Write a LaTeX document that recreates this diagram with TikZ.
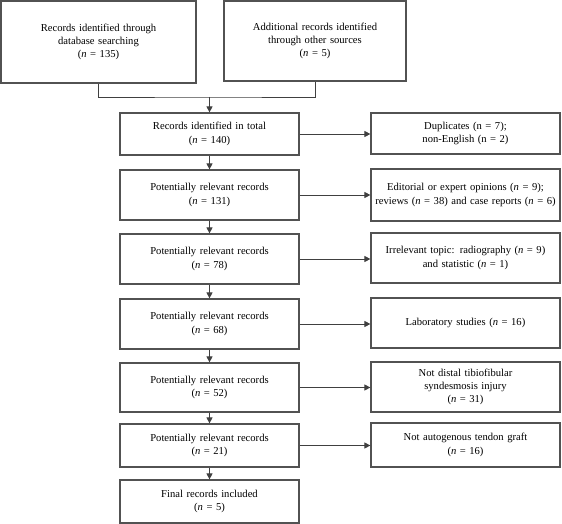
\documentclass[tikz,border=0pt]{standalone}
\usepackage{fontspec}
\setmainfont{Liberation Serif}
\usetikzlibrary{arrows.meta}

\begin{document}
\begin{tikzpicture}[x=1pt, y=-1pt,
    box/.style={draw=black!68, line width=1.2pt, align=center, inner sep=0pt,
        font=\fontsize{10.6}{13.3}\selectfont},
    midbox/.style={box, minimum width=179pt, text width=175pt},
    sidebox/.style={box, minimum width=189pt, text width=185pt},
    arr/.style={draw=black!75, line width=0.9pt, -{Triangle[length=6pt,width=6pt]}}]
    \useasboundingbox (0,0) rectangle (562,524);

    % Draw source boxes
    \node[box, minimum width=195pt, minimum height=82pt, text width=190pt] (src1) at (98.5, 42) {Records identified through\\database searching\\(\textit{n} = 135)};
    \node[box, minimum width=182pt, minimum height=80pt, text width=178pt] (src2) at (315, 41) {Additional records identified\\through other sources\\(\textit{n} = 5)};

    % Draw main column
    \node[midbox, minimum height=42pt] (total) at (209.5, 134) {Records identified in total\\(\textit{n} = 140)};
    \node[midbox, minimum height=50pt] (r131) at (209.5, 195) {Potentially relevant records\\(\textit{n} = 131)};
    \node[midbox, minimum height=50pt] (r78) at (209.5, 259) {Potentially relevant records\\(\textit{n} = 78)};
    \node[midbox, minimum height=50pt] (r68) at (209.5, 324) {Potentially relevant records\\(\textit{n} = 68)};
    \node[midbox, minimum height=49pt] (r52) at (209.5, 387.5) {Potentially relevant records\\(\textit{n} = 52)};
    \node[midbox, minimum height=43pt] (r21) at (209.5, 445.5) {Potentially relevant records\\(\textit{n} = 21)};
    \node[midbox, minimum height=43pt] (final) at (209.5, 501.5) {Final records included\\(\textit{n} = 5)};

    % Draw excluded boxes
    \node[sidebox, minimum height=41pt] (dup) at (465.5, 133.5) {Duplicates (n = 7);\\non-English (n = 2)};
    \node[sidebox, minimum height=52pt] (edit) at (465.5, 195) {Editorial or expert opinions (\textit{n} = 9);\\reviews (\textit{n} = 38) and case reports (\textit{n} = 6)};
    \node[sidebox, minimum height=50pt] (irr) at (465.5, 258) {Irrelevant topic: radiography (\textit{n} = 9)\\and statistic (\textit{n} = 1)};
    \node[sidebox, minimum height=50pt] (lab) at (465.5, 323) {Laboratory studies (\textit{n} = 16)};
    \node[sidebox, minimum height=50pt] (nd) at (465.5, 387) {Not distal tibiofibular\\syndesmosis injury\\(\textit{n} = 31)};
    \node[sidebox, minimum height=44pt] (na) at (465.5, 445) {Not autogenous tendon graft\\(\textit{n} = 16)};

    % Draw merge of sources
    \coordinate (join) at (209.5, 97);
    \draw[draw=black!75, line width=0.9pt] (src1.south) |- (join) -| (src2.south);
    \draw[arr] (join) -- (total);

    % Draw arrows down the column
    \draw[arr] (total) -- (r131);
    \draw[arr] (r131) -- (r78);
    \draw[arr] (r78) -- (r68);
    \draw[arr] (r68) -- (r52);
    \draw[arr] (r52) -- (r21);
    \draw[arr] (r21) -- (final);

    % Draw arrows to excluded records
    \draw[arr] (total.east) -- (total.east -| dup.west);
    \draw[arr] (r131.east) -- (r131.east -| edit.west);
    \draw[arr] (r78.east) -- (r78.east -| irr.west);
    \draw[arr] (r68.east) -- (r68.east -| lab.west);
    \draw[arr] (r52.east) -- (r52.east -| nd.west);
    \draw[arr] (r21.east) -- (r21.east -| na.west);
\end{tikzpicture}
\end{document}
